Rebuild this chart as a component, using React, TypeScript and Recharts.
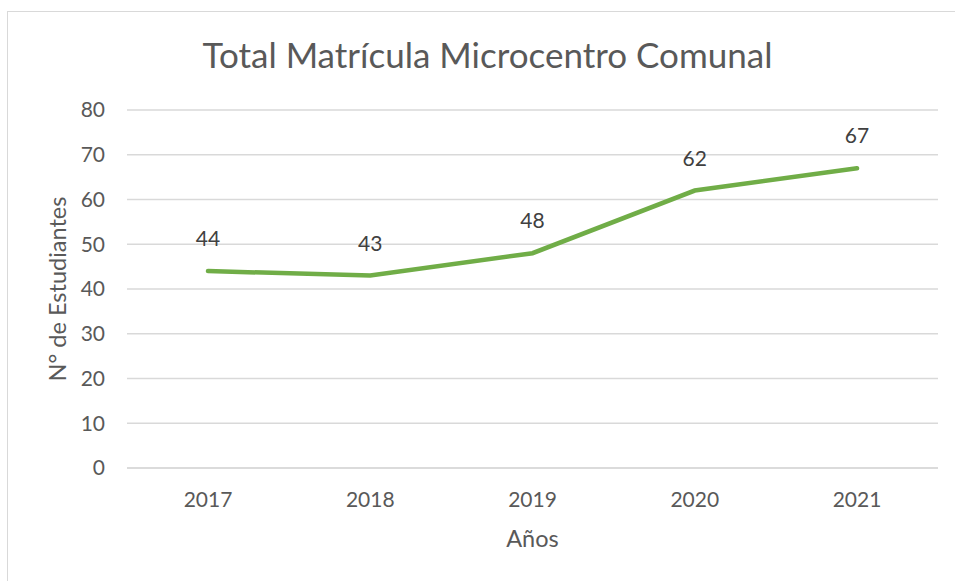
import React from 'react';
import { LineChart, Line, XAxis, YAxis, CartesianGrid, LabelList } from 'recharts';

const years = ['2017', '2018', '2019', '2020', '2021'];
const students = [44, 43, 48, 62, 67];
const yTicks = [0, 10, 20, 30, 40, 50, 60, 70, 80];

const chartTitle = 'Total Matrícula Microcentro Comunal';
const xTitle = 'Años';
const yTitle = 'N° de Estudiantes';

const data = years.map((year, i) => ({ year, students: students[i] }));

const FONT = 'Lato, "Open Sans", sans-serif';
const TEXT = '#595959';
const GRID = '#d9d9d9';

const YTitle = ({ viewBox }: any) => {
  const x = viewBox.x + 57;
  const y = viewBox.y + viewBox.height / 2;
  return (
    <text
      x={x}
      y={y}
      transform={`rotate(-90 ${x} ${y})`}
      textAnchor="middle"
      dominantBaseline="central"
      fill={TEXT}
      fontSize={23.5}
      fontFamily={FONT}
    >
      {yTitle}
    </text>
  );
};

export default function App() {
  return (
    <div style={{ position: 'absolute', left: 0, top: 0, width: 955, height: 581, background: '#fff', overflow: 'hidden' }}>
      {/* chart area border, cut off at right and bottom */}
      <div style={{ position: 'absolute', left: 7, top: 11, width: 1000, height: 600, border: `1px solid ${GRID}` }} />
      <div
        style={{
          position: 'absolute', left: 0, top: 33, width: 975, textAlign: 'center',
          fontFamily: FONT, fontSize: 35, color: TEXT, lineHeight: '42px', whiteSpace: 'nowrap',
        }}
      >
        {chartTitle}
      </div>
      <div style={{ position: 'absolute', left: 0, top: 0 }}>
        <LineChart width={955} height={581} data={data} margin={{ top: 110, right: 17, left: 0, bottom: 0 }}>
          <CartesianGrid vertical={false} stroke={GRID} strokeWidth={1.5} />
          <XAxis
            dataKey="year"
            height={113}
            padding={{ left: 81, right: 81 }}
            axisLine={{ stroke: GRID, strokeWidth: 1.5 }}
            tickLine={false}
            tickSize={0}
            tickMargin={24}
            tick={{ fill: TEXT, fontSize: 21, fontFamily: FONT }}
            label={{ value: xTitle, position: 'insideBottom', offset: 34, fill: TEXT, fontSize: 23.5, fontFamily: FONT }}
          />
          <YAxis
            width={127}
            domain={[0, 80]}
            ticks={yTicks}
            interval={0}
            axisLine={false}
            tickLine={false}
            tickSize={0}
            tickMargin={22}
            tick={{ fill: TEXT, fontSize: 21, fontFamily: FONT }}
            label={<YTitle />}
          />
          <Line
            type="linear"
            dataKey="students"
            stroke="#70ad47"
            strokeWidth={4.5}
            strokeLinecap="round"
            dot={false}
            activeDot={false}
            isAnimationActive={false}
          >
            <LabelList dataKey="students" position="top" offset={25} fill="#404040" fontSize={21} fontFamily={FONT} />
          </Line>
        </LineChart>
      </div>
    </div>
  );
}
